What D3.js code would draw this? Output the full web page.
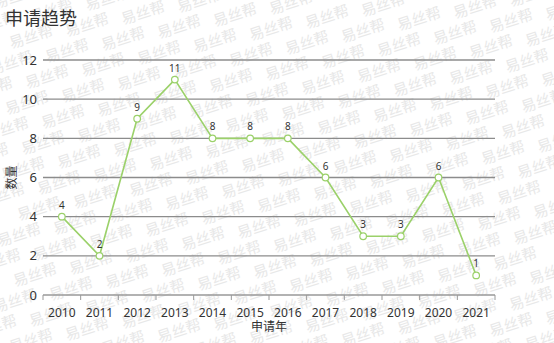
<!DOCTYPE html>
<html><head><meta charset="utf-8">
<script src="https://cdn.jsdelivr.net/npm/d3@7"></script>
<style>body{margin:0;background:#fff;font-family:"Noto Sans","Noto Sans CJK SC",sans-serif;}</style>
</head><body>
<svg id="c" width="554" height="343"></svg>
<script>
const years = ["2010","2011","2012","2013","2014","2015","2016","2017","2018","2019","2020","2021"];
const counts = [4,2,9,11,8,8,8,6,3,3,6,1];
const yTicks = [0,2,4,6,8,10,12];
const title = "申请趋势";
const xTitle = "申请年";
const yTitle = "数量";
const watermark = "易丝帮";

const W = 554, H = 343;
const m = {l:43, r:59, t:60, b:48};
const svg = d3.select("#c");

// watermark lattice
const wm = svg.append("g").attr("fill","#e8e8e8").attr("font-size",15)
  .attr("text-anchor","middle").attr("font-family","'Noto Sans CJK SC',sans-serif");
const pts = [];
for (let j=-40; j<40; j++) {
  for (let i=-15; i<15; i++) {
    const px = 323 + i*92 + j*36, py = 83 + i*2 + j*14;
    if (px < -15 || px > W+15 || py < -5 || py > H+8) continue;
    pts.push([px,py]);
  }
}
wm.selectAll("text").data(pts).join("text")
  .attr("x",d=>d[0]).attr("y",d=>d[1]+5)
  .attr("transform",d=>`rotate(-18,${d[0]},${d[1]})`).text(watermark);

const x = d3.scaleBand().domain(years).range([m.l, W-m.r]);
const y = d3.scaleLinear().domain([0,12]).range([H-m.b, m.t]);

svg.append("text").attr("x",5).attr("y",25).attr("font-size",18).attr("fill","#333").text(title);

// grid
svg.append("g").selectAll("line").data(yTicks.filter(d=>d>0)).join("line")
  .attr("x1",m.l).attr("x2",W-m.r).attr("y1",d=>y(d)).attr("y2",d=>y(d))
  .attr("stroke","#8c8c8c").attr("stroke-width",1.3);

// y labels
svg.append("g").selectAll("text").data(yTicks).join("text")
  .attr("x",37).attr("y",d=>y(d)).attr("dy","0.35em").attr("text-anchor","end")
  .attr("font-size",13).attr("fill","#333").text(d=>d);

// x axis
const xa = svg.append("g").attr("transform",`translate(0,${H-m.b})`);
xa.append("line").attr("x1",m.l).attr("x2",W-m.r).attr("stroke","#999").attr("stroke-width",1.3);
const bounds = years.map(d=>x(d)).concat([W-m.r]);
xa.selectAll("line.t").data(bounds).join("line").attr("class","t")
  .attr("x1",d=>d).attr("x2",d=>d).attr("y1",0).attr("y2",5).attr("stroke","#999");
xa.selectAll("text").data(years).join("text")
  .attr("x",d=>x(d)+x.bandwidth()/2).attr("y",22).attr("text-anchor","middle")
  .attr("font-size",12).attr("fill","#333").text(d=>d);

svg.append("text").attr("x",(m.l+W-m.r)/2).attr("y",331).attr("text-anchor","middle")
  .attr("font-size",12).attr("fill","#333").text(xTitle);
svg.append("text").attr("transform",`translate(16,${(m.t+H-m.b)/2}) rotate(-90)`)
  .attr("text-anchor","middle").attr("font-size",12).attr("fill","#333").text(yTitle);

const cx = d => x(d)+x.bandwidth()/2;
const line = d3.line().x((d,i)=>cx(years[i])).y(d=>y(d));
svg.append("path").datum(counts).attr("d",line).attr("fill","none")
  .attr("stroke","#9bd16a").attr("stroke-width",1.6);
svg.append("g").selectAll("circle").data(counts).join("circle")
  .attr("cx",(d,i)=>cx(years[i])).attr("cy",d=>y(d)).attr("r",3.3)
  .attr("fill","#fff").attr("stroke","#9bd16a").attr("stroke-width",1.2);
svg.append("g").selectAll("text").data(counts).join("text")
  .attr("x",(d,i)=>cx(years[i])).attr("y",d=>y(d)-8).attr("text-anchor","middle")
  .attr("font-size",10).attr("fill","#333").text(d=>d);
</script>
</body></html>
